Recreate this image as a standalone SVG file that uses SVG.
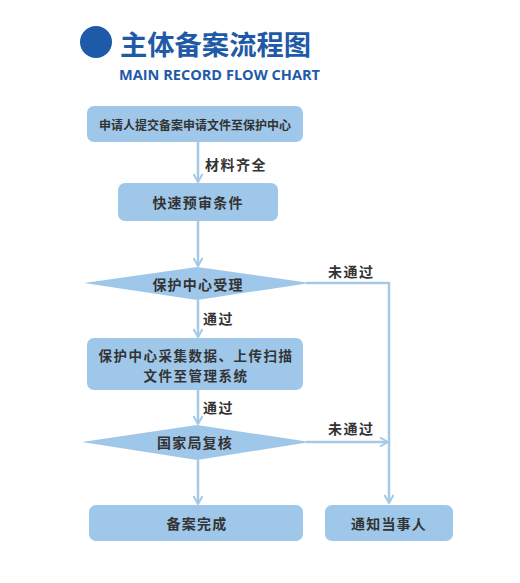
<svg xmlns="http://www.w3.org/2000/svg" width="520" height="583" viewBox="0 0 520 583">
<defs>
<marker id="arr" viewBox="0 0 10 10" refX="9" refY="5" markerWidth="10" markerHeight="10" markerUnits="userSpaceOnUse" orient="auto">
<path d="M1,0.5 L9,5 L1,9.5" fill="none" stroke="#a6c9e6" stroke-width="2"/>
</marker>
</defs>
<style>
.box{fill:#9fc7e9;}
.t{font-family:"Noto Sans CJK SC","Noto Sans",sans-serif;font-size:14px;font-weight:bold;fill:#333;text-anchor:middle;dominant-baseline:central;letter-spacing:1.2px;}
.small{font-size:12px;letter-spacing:0;}
.two{font-size:13.5px;letter-spacing:1.5px;}
.lbl{font-family:"Noto Sans CJK SC","Noto Sans",sans-serif;font-size:14px;font-weight:bold;fill:#333;dominant-baseline:central;letter-spacing:1.5px;}
.c{fill:none;stroke:#a6c9e6;stroke-width:2.5;}
</style>
<rect width="520" height="583" fill="#ffffff"/>
<g id="title">
<circle cx="96" cy="42" r="16" fill="#1f5aa8"/>
<text x="120" y="43" font-family="Noto Sans CJK SC,sans-serif" font-size="27" font-weight="bold" fill="#1f5aa8" dominant-baseline="central" textLength="191" lengthAdjust="spacingAndGlyphs">主体备案流程图</text>
<text x="119" y="74" font-family="Open Sans,Liberation Sans,sans-serif" font-size="14.5" font-weight="bold" fill="#1f5aa8" dominant-baseline="central" textLength="201" lengthAdjust="spacingAndGlyphs">MAIN RECORD FLOW CHART</text>
</g>
<g id="connectors">
<line class="c" x1="198" y1="142" x2="198" y2="182" marker-end="url(#arr)"/>
<line class="c" x1="198" y1="221" x2="198" y2="266" marker-end="url(#arr)"/>
<line class="c" x1="198" y1="300" x2="198" y2="337" marker-end="url(#arr)"/>
<line class="c" x1="198" y1="390" x2="198" y2="424" marker-end="url(#arr)"/>
<line class="c" x1="198" y1="460" x2="198" y2="504" marker-end="url(#arr)"/>
<polyline class="c" points="306,283 389,283 389,503" marker-end="url(#arr)"/>
<line class="c" x1="306" y1="442" x2="388" y2="442" marker-end="url(#arr)"/>
<text class="lbl" x="205" y="164">材料齐全</text>
<text class="lbl" x="328" y="271">未通过</text>
<text class="lbl" x="203" y="318">通过</text>
<text class="lbl" x="203" y="407">通过</text>
<text class="lbl" x="328" y="428">未通过</text>
</g>
<g id="n1">
<rect class="box" x="87" y="106" width="216" height="36" rx="7"/>
<text class="t small" x="195" y="124">申请人提交备案申请文件至保护中心</text>
</g>
<g id="n2">
<rect class="box" x="118" y="183" width="160" height="38" rx="7"/>
<text class="t" x="198" y="202">快速预审条件</text>
</g>
<g id="d1">
<polygon class="box" points="84,283 197,267 310,283 197,300"/>
<text class="t" x="198" y="284">保护中心受理</text>
</g>
<g id="n3">
<rect class="box" x="87" y="338" width="216" height="52" rx="7"/>
<text class="t two" x="196" y="355">保护中心采集数据、上传扫描</text>
<text class="t two" x="196" y="375">文件至管理系统</text>
</g>
<g id="d2">
<polygon class="box" points="82,442 197,425 310,442 197,460"/>
<text class="t" x="195" y="442">国家局复核</text>
</g>
<g id="n4">
<rect class="box" x="89" y="505" width="214" height="36" rx="7"/>
<text class="t" x="197" y="523">备案完成</text>
</g>
<g id="n5">
<rect class="box" x="325" y="505" width="128" height="36" rx="7"/>
<text class="t" x="389" y="523">通知当事人</text>
</g>
</svg>
